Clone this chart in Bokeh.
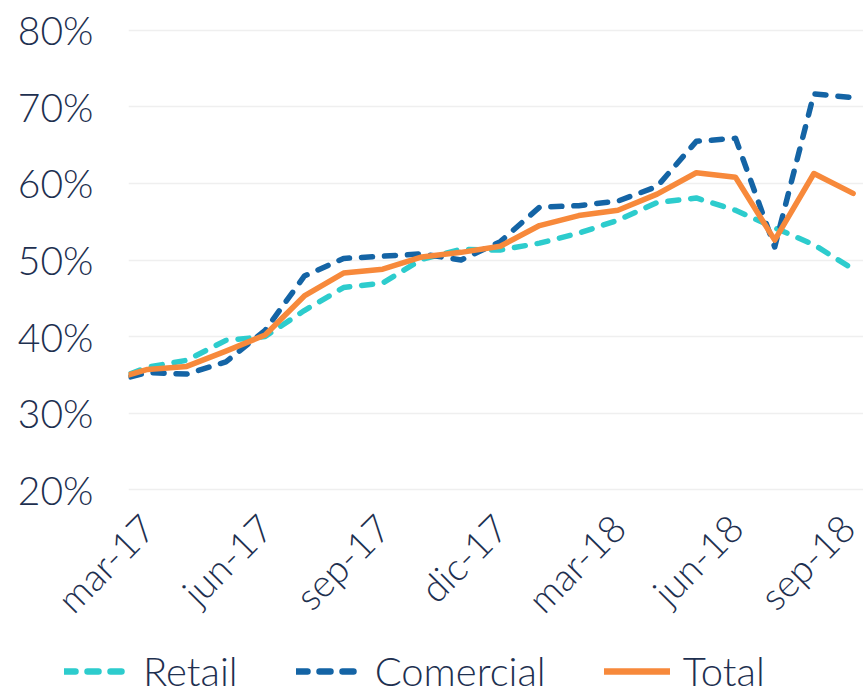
import numpy as np
from bokeh.plotting import figure
from bokeh.models import FixedTicker, PrintfTickFormatter, Legend, LegendItem, Range1d
from bokeh.embed import file_html
from bokeh.resources import INLINE
from math import pi

# Monthly ratios (%), feb-17 .. sep-18 (feb-17 only partly visible at the left edge)
months = ["feb-17", "mar-17", "abr-17", "may-17", "jun-17", "jul-17", "ago-17", "sep-17",
          "oct-17", "nov-17", "dic-17", "ene-18", "feb-18", "mar-18", "abr-18", "may-18",
          "jun-18", "jul-18", "ago-18", "sep-18"]
retail = [34.0, 36.0, 36.9, 39.5, 40.0, 43.4, 46.4, 47.0, 50.1, 51.4, 51.3, 52.2, 53.5,
          55.2, 57.5, 58.1, 56.5, 54.2, 52.0, 48.8]
comercial = [34.0, 35.3, 35.1, 36.7, 40.8, 47.9, 50.2, 50.5, 50.8, 50.0, 52.4, 56.9, 57.1,
             57.7, 59.6, 65.5, 65.9, 51.7, 71.7, 71.2]
total = [34.2, 35.7, 36.1, 38.1, 40.2, 45.3, 48.3, 48.8, 50.4, 51.0, 51.8, 54.5, 55.8,
         56.5, 58.6, 61.4, 60.8, 52.6, 61.3, 58.7]
series_names = ["Retail", "Comercial", "Total"]
tick_labels = ["mar-17", "jun-17", "sep-17", "dic-17", "mar-18", "jun-18", "sep-18"]
y_ticks = [20, 30, 40, 50, 60, 70, 80]

x = list(range(-1, len(months) - 1))  # mar-17 -> 0
tick_pos = [months.index(m) - 1 for m in tick_labels]

TEXT = "#1e3050"
FONT = "Lato Light"
COLORS = ["#2dcccd", "#1464a5", "#f7893b"]
DASHES = ["11 12", "11 12", "solid"]
SERIES = [retail, comercial, total]

p = figure(width=863, height=640, output_backend="svg", toolbar_location=None,
           x_range=Range1d(-0.485, 18.265), y_range=Range1d(19.5, 80.5),
           min_border_left=128, min_border_right=0, min_border_top=26, min_border_bottom=138)
p.outline_line_color = None
p.background_fill_color = "white"
p.border_fill_color = "white"

p.xgrid.grid_line_color = None
p.ygrid.grid_line_color = "#efefef"
p.ygrid.grid_line_width = 1.3

p.yaxis.ticker = FixedTicker(ticks=y_ticks)
p.yaxis.formatter = PrintfTickFormatter(format="%d%%")
p.yaxis.axis_line_color = None
p.yaxis.major_tick_line_color = None
p.yaxis.minor_tick_line_color = None
p.yaxis.major_tick_out = 0
p.yaxis.major_label_standoff = 35
p.yaxis.major_label_text_font = FONT
p.yaxis.major_label_text_font_size = "39px"
p.yaxis.major_label_text_color = TEXT

p.xaxis.ticker = FixedTicker(ticks=tick_pos)
p.xaxis.major_label_overrides = {pos: lab for pos, lab in zip(tick_pos, tick_labels)}
p.xaxis.major_label_orientation = pi / 4
p.xaxis.axis_line_color = None
p.xaxis.major_tick_line_color = None
p.xaxis.minor_tick_line_color = None
p.xaxis.major_tick_out = 0
p.xaxis.major_label_standoff = 27
p.xaxis.major_label_text_font = FONT
p.xaxis.major_label_text_font_size = "38px"
p.xaxis.major_label_text_color = TEXT

for vals, col, dash in zip(SERIES, COLORS, DASHES):
    p.line(x, vals, line_width=5.5, color=col, line_dash=dash, line_cap="round",
           line_join="round")

# legend strip below the chart (its own root, so its frame is not aligned to the chart's)
lf = figure(width=863, height=49, output_backend="svg", toolbar_location=None,
            x_range=Range1d(100, 101), y_range=Range1d(0, 1),
            x_axis_location=None, y_axis_location=None, min_border=0)
lf.outline_line_color = None
lf.background_fill_color = "white"
lf.border_fill_color = "white"
lf.xgrid.visible = False
lf.ygrid.visible = False
items = []
for name, vals, col, dash in zip(series_names, SERIES, COLORS, DASHES):
    r = lf.line(x, vals, line_width=6.5, color=col, line_dash=dash, line_cap="round")
    items.append(LegendItem(label=name, renderers=[r]))
legend = Legend(items=items, orientation="horizontal", location=(64, -6),
                glyph_width=66, glyph_height=20, label_standoff=13, spacing=58,
                padding=0, margin=0, border_line_color=None, background_fill_alpha=0,
                label_text_font=FONT, label_text_font_size="40px", label_text_color=TEXT)
lf.add_layout(legend, "center")

open("out.html", "w").write(file_html([p, lf], INLINE))
